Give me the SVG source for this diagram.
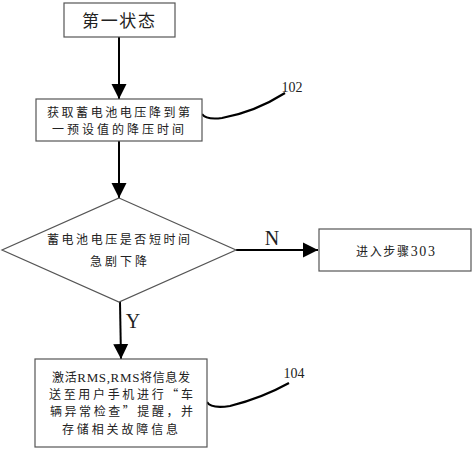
<svg xmlns="http://www.w3.org/2000/svg" width="474" height="450" viewBox="0 0 474 450">
<style>
.box{fill:#fff;stroke:#555;stroke-width:1.2}
.t{font-family:"Noto Sans CJK SC","Liberation Serif",serif;font-size:12px;fill:#222}
.lat{font-family:"Liberation Serif",serif}
.l{font-family:"Liberation Serif",serif;fill:#222}
.c{fill:none;stroke:#000;stroke-width:2.2}
.ln{fill:none;stroke:#000;stroke-width:2}
</style>
<defs>
<marker id="ah" markerWidth="16" markerHeight="16" refX="15" refY="8" orient="auto" markerUnits="userSpaceOnUse">
<path d="M0,0.5 L15,8 L0,15.5 Z" fill="#000"/>
</marker>
</defs>
<rect width="474" height="450" fill="#fff"/>
<g id="connectors">
<line class="ln" x1="119" y1="37" x2="119" y2="99" marker-end="url(#ah)"/>
<line class="ln" x1="119" y1="141" x2="119" y2="198" marker-end="url(#ah)"/>
<line class="ln" x1="236" y1="250" x2="318" y2="250" marker-end="url(#ah)"/>
<line class="ln" x1="120" y1="302" x2="121" y2="359" marker-end="url(#ah)"/>
<path class="c" d="M202,114 Q206,120 222,118 Q255,112 285,93"/>
<path class="c" d="M207,402 Q211,409 230,406 Q262,398 289,383"/>
<text class="l" x="272" y="245" font-size="20" text-anchor="middle">N</text>
<text class="l" x="133" y="328" font-size="20" text-anchor="middle">Y</text>
<text class="l" x="292" y="92" font-size="14" text-anchor="middle">102</text>
<text class="l" x="294" y="378" font-size="14" text-anchor="middle">104</text>
</g>
<g id="n1">
<rect class="box" x="64" y="3" width="111" height="34"/>
<text class="t" x="82" y="27" style="font-size:17px" textLength="73" lengthAdjust="spacing">第一状态</text>
</g>
<g id="n2">
<rect class="box" x="36" y="99" width="166" height="42"/>
<text class="t" x="47" y="117" textLength="143" lengthAdjust="spacing">获取蓄电池电压降到第</text>
<text class="t" x="52" y="134" textLength="132" lengthAdjust="spacing">一预设值的降压时间</text>
</g>
<g id="n3">
<path class="box" d="M119,198 L236,250 L119,302 L2,250 Z"/>
<text class="t" x="47" y="244" textLength="143" lengthAdjust="spacing">蓄电池电压是否短时间</text>
<text class="t" x="90" y="266" textLength="57" lengthAdjust="spacing">急剧下降</text>
</g>
<g id="n4">
<rect class="box" x="319" y="229" width="152" height="42"/>
<text class="t" x="356" y="256" textLength="79" lengthAdjust="spacing">进入步骤<tspan class="lat" font-size="14">303</tspan></text>
</g>
<g id="n5">
<rect class="box" x="35" y="359" width="172" height="88"/>
<text class="t" x="52" y="382" textLength="138" lengthAdjust="spacing">激活<tspan class="lat" font-size="13">RMS,RMS</tspan>将信息发</text>
<text class="t" x="49" y="399" textLength="144" lengthAdjust="spacing">送至用户手机进行“车</text>
<text class="t" x="50" y="416" textLength="143" lengthAdjust="spacing">辆异常检查”提醒，并</text>
<text class="t" x="62" y="434" textLength="116" lengthAdjust="spacing">存储相关故障信息</text>
</g>
</svg>
